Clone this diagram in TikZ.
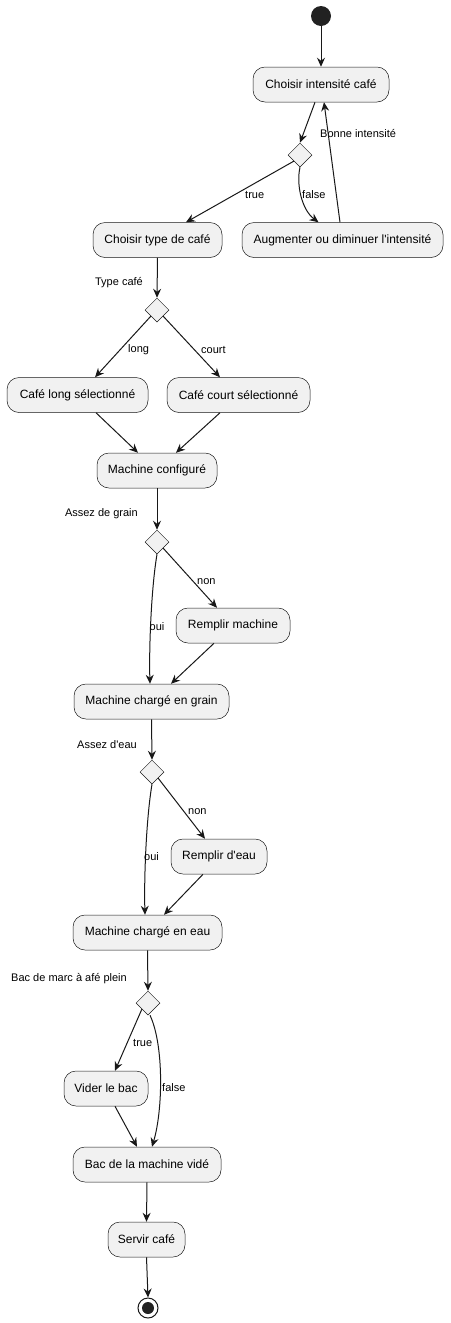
\documentclass[tikz,border=0pt]{standalone}
\usepackage{fontspec}
\setmainfont{Liberation Sans}[Ligatures=TeXOff]
\usetikzlibrary{arrows.meta,shapes.geometric}
\definecolor{uline}{HTML}{181818}
\definecolor{ufill}{HTML}{F1F1F1}
\definecolor{udot}{HTML}{222222}
\tikzset{
  act/.style={draw=uline, fill=ufill, line width=0.5pt, rounded corners=12pt,
    minimum height=35pt, inner sep=0pt, font=\fontsize{12}{14}\selectfont, text=black},
  dec/.style={draw=uline, fill=ufill, line width=0.5pt, diamond, aspect=1,
    minimum width=24pt, minimum height=24pt, inner sep=0pt},
  flow/.style={draw=uline, line width=1pt, -{Stealth[length=9pt,width=8pt,inset=3pt]}},
  lbl/.style={font=\fontsize{11}{13}\selectfont, inner sep=0pt, text=black},
  startdot/.style={circle, fill=udot, minimum size=20pt, inner sep=0pt},
  stopring/.style={circle, draw=uline, line width=1pt, fill=white, minimum size=20pt, inner sep=0pt},
}
\begin{document}
\begin{tikzpicture}[x=1pt,y=-1pt]
\useasboundingbox (0,0) rectangle (450,1323);

% activities
\node[startdot] (start) at (321,16) {};
\node[act, minimum width=136pt] (c1) at (321,84.5) {Choisir intensité café};
\node[dec] (d1) at (300,155) {};
\node[act, minimum width=201pt] (aug) at (342.5,240) {Augmenter ou diminuer l'intensité};
\node[act, minimum width=129pt] (type) at (157.5,240) {Choisir type de café};
\node[dec] (d2) at (157,310) {};
\node[act, minimum width=141pt] (long) at (77.5,395) {Café long sélectionné};
\node[act, minimum width=143pt] (court) at (238.5,395) {Café court sélectionné};
\node[act, minimum width=120pt] (conf) at (157,470.5) {Machine configuré};
\node[dec] (d3) at (157,542) {};
\node[act, minimum width=114pt] (rempl) at (233,625.5) {Remplir machine};
\node[act, minimum width=155pt] (grain) at (151.5,701.5) {Machine chargé en grain};
\node[dec] (d4) at (152,772) {};
\node[act, minimum width=96pt] (remeau) at (219,856.5) {Remplir d'eau};
\node[act, minimum width=149pt] (eau) at (147.5,932.5) {Machine chargé en eau};
\node[dec] (d5) at (148,1003) {};
\node[act, minimum width=84pt] (vider) at (106,1088.5) {Vider le bac};
\node[act, minimum width=148pt] (bac) at (147,1164.5) {Bac de la machine vidé};
\node[act, minimum width=77pt] (servir) at (146.5,1239.5) {Servir café};
\node[stopring] (stop) at (148,1308) {};
\fill[udot] (stop.center) circle (6pt);

% decision captions
\node[lbl, anchor=west] (qint) at (320,133) {Bonne intensité};
\node[lbl, anchor=east] (qtype) at (143,283) {Type café};
\node[lbl, anchor=east] (qgrain) at (138,514) {Assez de grain};
\node[lbl, anchor=east] (qeau) at (137,745) {Assez d'eau};
\node[lbl, anchor=east] (qbac) at (127,979) {Bac de marc à afé plein};

% flows
\draw[flow] (start) -- (c1.north);
\draw[flow] ([xshift=-6pt]c1.south) -- (d1.north);
\draw[flow] (d1.south west) -- ([xshift=28.5pt]type.north);
\draw[flow] (d1.south) .. controls (296,185) and (302,210) .. ([xshift=-24pt]aug.north);
\draw[flow] ([xshift=-2.5pt]aug.north) -- ([xshift=3pt]c1.south);
\node[lbl, anchor=west] (ltrue1) at (245,195) {true};
\node[lbl, anchor=west] (lfalse1) at (302,195) {false};

\draw[flow] (type.south) -- (d2.north);
\draw[flow] (d2.south west) -- ([xshift=17.5pt]long.north);
\draw[flow] (d2.south east) -- ([xshift=-18.5pt]court.north);
\node[lbl, anchor=west] (llong) at (128,350) {long};
\node[lbl, anchor=west] (lcourt) at (201,350) {court};
\draw[flow] ([xshift=18.5pt]long.south) -- ([xshift=-19pt]conf.north);
\draw[flow] ([xshift=-18.5pt]court.south) -- ([xshift=19pt]conf.north);

\draw[flow] (conf.south) -- (d3.north);
\draw[flow] (d3.south) .. controls (151,590) and (149,650) .. ([xshift=-1.5pt]grain.north);
\draw[flow] (d3.south east) -- ([xshift=-16pt]rempl.north);
\node[lbl, anchor=west] (loui1) at (149.5,627) {oui};
\node[lbl, anchor=west] (lnon1) at (197,582) {non};
\draw[flow] ([xshift=-19pt]rempl.south) -- ([xshift=19.5pt]grain.north);

\draw[flow] (grain.south) -- (d4.north);
\draw[flow] (d4.south) .. controls (146,820) and (144,880) .. ([xshift=-2.5pt]eau.north);
\draw[flow] (d4.south east) -- ([xshift=-14pt]remeau.north);
\node[lbl, anchor=west] (loui2) at (144,857) {oui};
\node[lbl, anchor=west] (lnon2) at (188,812) {non};
\draw[flow] ([xshift=-16pt]remeau.south) -- ([xshift=16.5pt]eau.north);

\draw[flow] (eau.south) -- (d5.north);
\draw[flow] (d5.south west) -- ([xshift=9pt]vider.north);
\draw[flow] ([xshift=2pt]d5.south) .. controls (164,1045) and (163,1110) .. ([xshift=5pt]bac.north);
\node[lbl, anchor=west] (ltrue2) at (133,1043) {true};
\node[lbl, anchor=west] (lfalse2) at (162,1088) {false};
\draw[flow] ([xshift=9pt]vider.south) -- ([xshift=-10pt]bac.north);

\draw[flow] (bac.south) -- (servir.north);
\draw[flow] (servir.south) -- (stop.north);
\end{tikzpicture}
\end{document}
